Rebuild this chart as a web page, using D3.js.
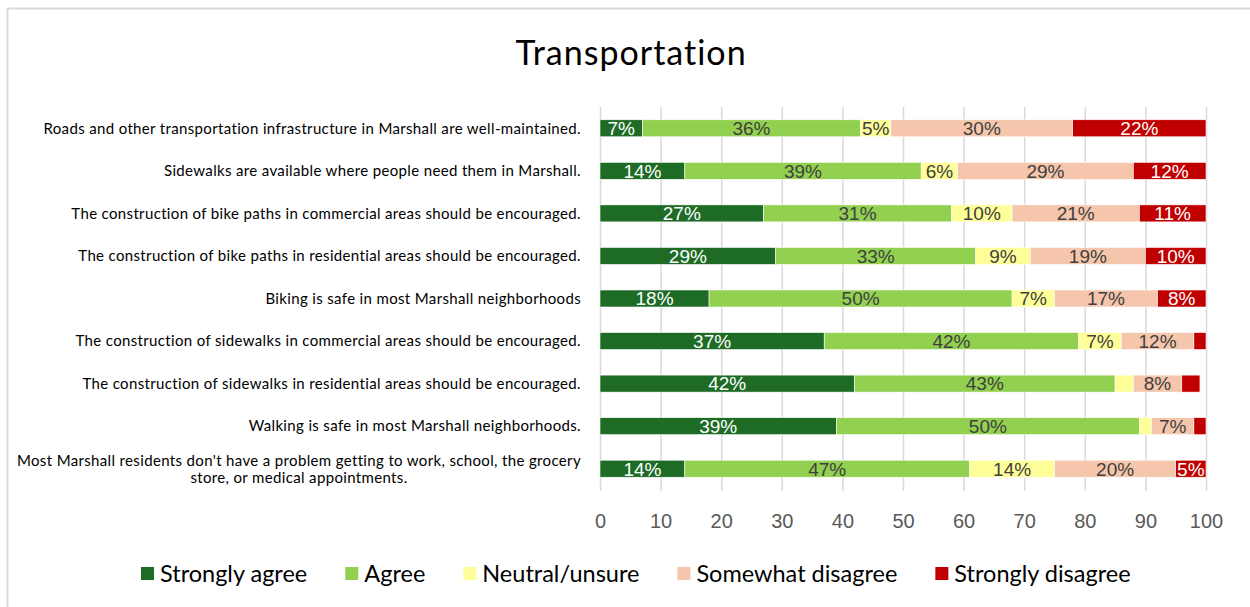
<!DOCTYPE html>
<html>
<head>
<meta charset="utf-8">
<script src="https://cdn.jsdelivr.net/npm/d3@7"></script>
<style>
  html, body { margin: 0; padding: 0; background: #fff; }
  svg { display: block; }
</style>
</head>
<body>
<svg id="chart" width="1250" height="607"></svg>
<script>
// Survey statements (top to bottom)
const statements = [
  "Roads and other transportation infrastructure in Marshall are well-maintained.",
  "Sidewalks are available where people need them in Marshall.",
  "The construction of bike paths in commercial areas should be encouraged.",
  "The construction of bike paths in residential areas should be encouraged.",
  "Biking is safe in most Marshall neighborhoods",
  "The construction of sidewalks in commercial areas should be encouraged.",
  "The construction of sidewalks in residential areas should be encouraged.",
  "Walking is safe in most Marshall neighborhoods.",
  "Most Marshall residents don't have a problem getting to work, school, the grocery\nstore, or medical appointments."
];

const responses = ["Strongly agree", "Agree", "Neutral/unsure", "Somewhat disagree", "Strongly disagree"];

// Percent of respondents per response, one array per response level
const stronglyAgree    = [7, 14, 27, 29, 18, 37, 42, 39, 14];
const agree            = [36, 39, 31, 33, 50, 42, 43, 50, 47];
const neutral          = [5, 6, 10, 9, 7, 7, 3, 2, 14];
const somewhatDisagree = [30, 29, 21, 19, 17, 12, 8, 7, 20];
const stronglyDisagree = [22, 12, 11, 10, 8, 2, 3, 2, 5];

// Segments below this size carry no label
const labelMin = 4;

const xTicks = [0, 10, 20, 30, 40, 50, 60, 70, 80, 90, 100];

const colors = ["#1d6b25", "#92d050", "#ffff99", "#f5c6ab", "#c00000"];
const labelColors = ["#ffffff", "#404040", "#404040", "#404040", "#ffffff"];

const series = [stronglyAgree, agree, neutral, somewhatDisagree, stronglyDisagree];

const svg = d3.select("#chart");

// Chart frame
svg.append("rect")
  .attr("x", 7.5).attr("y", 8.5)
  .attr("width", 1260).attr("height", 620)
  .attr("fill", "#fff")
  .attr("stroke", "#d9d9d9")
  .attr("stroke-width", 2);

// Title
svg.append("text")
  .attr("x", 631).attr("y", 65)
  .attr("text-anchor", "middle")
  .attr("font-family", "Lato, 'Noto Sans', sans-serif")
  .attr("font-size", 34)
  .attr("letter-spacing", 1)
  .attr("fill", "#000")
  .text("Transportation");

const x = d3.scaleLinear().domain([0, 100]).range([600, 1206]);
const y = d3.scaleBand().domain(statements).range([107, 490]).paddingInner(0.6).paddingOuter(0.3);

// Vertical gridlines
svg.append("g")
  .selectAll("line")
  .data(xTicks)
  .join("line")
  .attr("x1", d => x(d) + 0.5).attr("x2", d => x(d) + 0.5)
  .attr("y1", 107).attr("y2", 491)
  .attr("stroke", "#d9d9d9")
  .attr("stroke-width", 1.5);

// X axis tick labels
const xAxis = d3.axisBottom(x).tickValues(xTicks).tickSize(0).tickPadding(0);
const gx = svg.append("g").attr("transform", "translate(0,514)").call(xAxis);
gx.select(".domain").remove();
gx.selectAll("text")
  .attr("font-family", "'Liberation Sans', Arial, sans-serif")
  .attr("font-size", 20)
  .attr("fill", "#595959");

// Stacked segments
const rows = statements.map((s, i) => {
  let acc = 0;
  return series.map((arr, k) => {
    const v = arr[i];
    const seg = { statement: s, k, v, x0: acc, x1: acc + v };
    acc += v;
    return seg;
  });
}).flat();

const bars = svg.append("g");
bars.selectAll("rect")
  .data(rows)
  .join("rect")
  .attr("x", d => x(d.x0))
  .attr("width", d => x(d.x1) - x(d.x0))
  .attr("y", d => y(d.statement))
  .attr("height", y.bandwidth())
  .attr("fill", d => colors[d.k])
  .attr("stroke", "#ffffff")
  .attr("stroke-width", 0.6);

bars.selectAll("text")
  .data(rows.filter(d => d.v >= labelMin))
  .join("text")
  .attr("x", d => x((d.x0 + d.x1) / 2))
  .attr("y", d => y(d.statement) + y.bandwidth() / 2)
  .attr("dy", "0.36em")
  .attr("text-anchor", "middle")
  .attr("font-family", "'Liberation Sans', Arial, sans-serif")
  .attr("font-size", 19)
  .attr("fill", d => labelColors[d.k])
  .text(d => d.v + "%");

// Category labels
const cat = svg.append("g");
statements.forEach(s => {
  const lines = s.split("\n");
  const cy = y(s) + y.bandwidth() / 2;
  const t = cat.append("text")
    .attr("font-family", "Lato, 'Noto Sans', sans-serif")
    .attr("font-size", 15)
    .attr("letter-spacing", 0.35)
    .attr("fill", "#000");
  if (lines.length === 1) {
    t.attr("x", 581).attr("y", cy).attr("dy", "0.35em").attr("text-anchor", "end").text(s);
  } else {
    // multi-line label: lines centered on each other, block right-aligned
    const tmp = t.append("tspan").text(lines[0]);
    const w = tmp.node().getComputedTextLength();
    tmp.remove();
    const cx = 581 - w / 2;
    t.attr("text-anchor", "middle");
    lines.forEach((ln, j) => {
      t.append("tspan")
        .attr("x", cx)
        .attr("y", cy - 8 + j * 17)
        .attr("dy", "0.35em")
        .text(ln);
    });
  }
});

// Legend
const legend = svg.append("g");
let lx = 141;
responses.forEach((r, k) => {
  legend.append("rect")
    .attr("x", lx).attr("y", 567)
    .attr("width", 13).attr("height", 13)
    .attr("fill", colors[k]);
  const t = legend.append("text")
    .attr("x", lx + 19).attr("y", 574)
    .attr("dy", "0.35em")
    .attr("font-family", "Lato, 'Noto Sans', sans-serif")
    .attr("font-size", 23.5)
    .attr("fill", "#000")
    .text(r);
  lx += 19 + t.node().getComputedTextLength() + 38;
});
</script>
</body>
</html>
